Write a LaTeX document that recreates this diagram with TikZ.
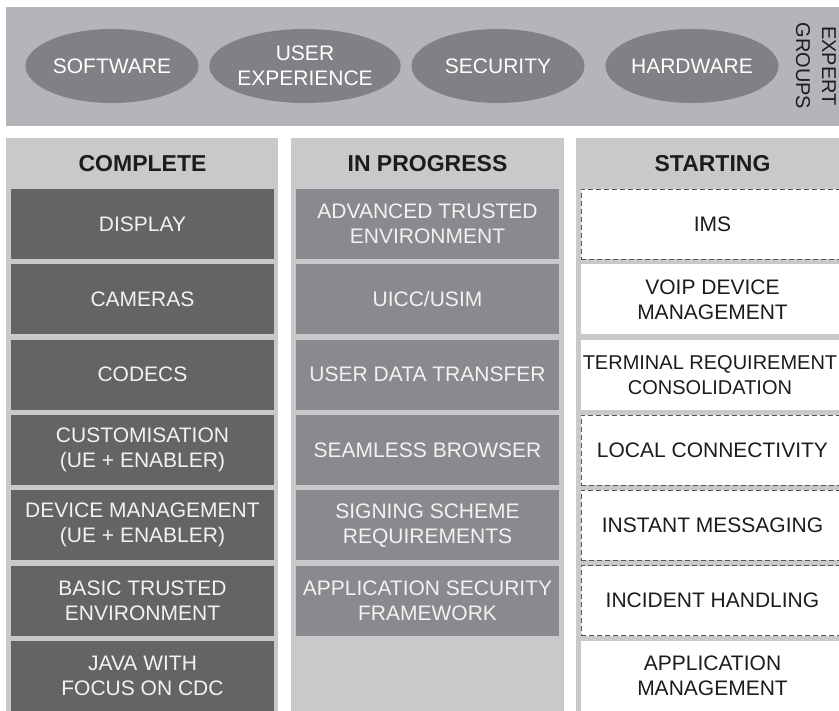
\documentclass[tikz,border=0pt]{standalone}
\usepackage{fontspec}
\setmainfont{Liberation Sans}
\usetikzlibrary{shapes.geometric}

\definecolor{bandgray}{HTML}{B4B5B8}
\definecolor{groupgray}{HTML}{808184}
\definecolor{panelgray}{HTML}{C8C9CB}
\definecolor{donegray}{HTML}{636466}
\definecolor{busygray}{HTML}{898A8D}
\definecolor{inktext}{HTML}{1C1C1C}
\definecolor{dashgray}{HTML}{555555}

\begin{document}
\begin{tikzpicture}[x=1pt,y=-1pt,
	group/.style={ellipse,fill=groupgray,text=white,minimum width=173pt,minimum height=74pt,inner sep=0pt,align=center,font=\fontsize{21}{25}\selectfont},
	head/.style={text=inktext,font=\fontsize{23}{27}\selectfont\bfseries},
	donebox/.style={rectangle,fill=donegray,text=white!95!black,minimum width=263pt,minimum height=70pt,inner sep=0pt,align=center,font=\fontsize{21}{25}\selectfont},
	busybox/.style={donebox,fill=busygray},
	startbox/.style={donebox,fill=white,text=inktext},
	startdash/.style={startbox,draw=dashgray,line width=0.9pt,dash pattern=on 5pt off 3pt}]
	\useasboundingbox (0,0) rectangle (839,711);
	\clip (0,0) rectangle (839,711);

	% Expert groups band
	\fill[bandgray] (6,7) rectangle (850,126);
	\node[group] (soft) at (112,66) {SOFTWARE};
	\node[group] (ux) at (305,66) {USER\\EXPERIENCE};
	\node[group] (sec) at (498,66) {SECURITY};
	\node[group] (hard) at (692,66) {HARDWARE};
	\node[rotate=-90,align=center,text=inktext,font=\fontsize{20}{26}\selectfont] (expert) at (816,66) {EXPERT\\GROUPS};

	% Column panels
	\fill[panelgray] (6,138) rectangle (278,720);
	\fill[panelgray] (291,138) rectangle (564,720);
	\fill[panelgray] (576,138) rectangle (850,720);
	\node[head] (complete) at (142.5,164) {COMPLETE};
	\node[head] (progress) at (427.5,164) {IN PROGRESS};
	\node[head] (starting) at (712.5,164) {STARTING};

	% Complete
	\node[donebox] (comp1) at (142.5,224) {DISPLAY};
	\node[donebox] (comp2) at (142.5,299.3) {CAMERAS};
	\node[donebox] (comp3) at (142.5,374.7) {CODECS};
	\node[donebox] (comp4) at (142.5,450) {CUSTOMISATION\\(UE + ENABLER)};
	\node[donebox] (comp5) at (142.5,525.3) {DEVICE MANAGEMENT\\(UE + ENABLER)};
	\node[donebox] (comp6) at (142.5,600.7) {BASIC TRUSTED\\ENVIRONMENT};
	\node[donebox] (comp7) at (142.5,676) {JAVA WITH\\FOCUS ON CDC};

	% In progress
	\node[busybox] (prog1) at (427.5,224) {ADVANCED TRUSTED\\ENVIRONMENT};
	\node[busybox] (prog2) at (427.5,299.3) {UICC/USIM};
	\node[busybox] (prog3) at (427.5,374.7) {USER DATA TRANSFER};
	\node[busybox] (prog4) at (427.5,450) {SEAMLESS BROWSER};
	\node[busybox] (prog5) at (427.5,525.3) {SIGNING SCHEME\\REQUIREMENTS};
	\node[busybox] (prog6) at (427.5,600.7) {APPLICATION SECURITY\\FRAMEWORK};

	% Starting
	\node[startdash] (start1) at (712.5,224) {IMS};
	\node[startbox] (start2) at (712.5,299.3) {VOIP DEVICE\\MANAGEMENT};
	\node[startbox] (start3) at (712.5,374.7) {};
	\node[align=center,text=inktext,font=\fontsize{20}{25}\selectfont] (start3text) at (710,374.7) {TERMINAL REQUIREMENT\\CONSOLIDATION};
	\node[startdash] (start4) at (712.5,450) {LOCAL CONNECTIVITY};
	\node[startdash] (start5) at (712.5,525.3) {INSTANT MESSAGING};
	\node[startdash] (start6) at (712.5,600.7) {INCIDENT HANDLING};
	\node[startbox] (start7) at (712.5,676) {APPLICATION\\MANAGEMENT};
\end{tikzpicture}
\end{document}
